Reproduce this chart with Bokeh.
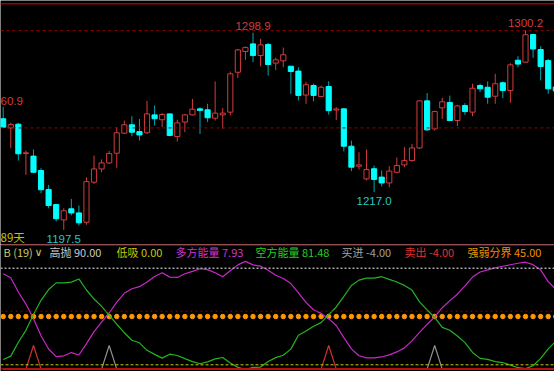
import numpy as np
from bokeh.plotting import figure
from bokeh.models import Range1d, Span, Label, ColumnDataSource
from bokeh.layouts import column
from bokeh.core.properties import value
from bokeh.embed import file_html
from bokeh.resources import INLINE

# ---------------- data ----------------
opens = [1254.7, 1250.0, 1251.9, 1236.8, 1235.5, 1228.1, 1218.3, 1210.6, 1202.7, 1208.4,
         1206.3, 1201.5, 1222.1, 1228.9, 1232.0, 1237.0, 1247.3, 1251.6, 1248.1, 1247.5,
         1256.7, 1254.2, 1257.2, 1245.6, 1253.0, 1256.7, 1259.8, 1259.3, 1255.0, 1256.7,
         1258.1, 1278.6, 1289.3, 1293.2, 1287.2, 1292.9, 1283.3, 1284.5, 1281.7, 1279.2,
         1266.9, 1271.8, 1266.1, 1271.3, 1259.2, 1259.8, 1240.6, 1230.3, 1223.8, 1229.0,
         1224.7, 1221.7, 1227.2, 1231.0, 1233.2, 1239.7, 1263.9, 1249.5, 1260.3, 1263.1,
         1253.8, 1261.5, 1258.1, 1271.8, 1270.9, 1266.3, 1273.2, 1269.2, 1284.8, 1283.8,
         1298.0, 1290.3, 1284.6, 1271.0]
highs = [1260.9, 1252.6, 1252.6, 1238.4, 1238.9, 1229.3, 1220.7, 1211.0, 1208.7, 1213.5,
         1210.1, 1224.6, 1235.8, 1233.8, 1238.2, 1250.4, 1253.8, 1256.0, 1254.6, 1263.9,
         1261.5, 1257.7, 1257.4, 1254.2, 1257.2, 1264.9, 1260.6, 1262.4, 1273.9, 1260.2,
         1279.0, 1290.6, 1291.9, 1298.9, 1295.8, 1293.7, 1286.2, 1291.3, 1281.9, 1281.2,
         1273.7, 1272.7, 1271.8, 1274.0, 1260.7, 1260.0, 1243.5, 1237.5, 1238.9, 1230.6,
         1228.1, 1230.3, 1234.8, 1240.1, 1241.8, 1263.9, 1267.9, 1258.9, 1265.5, 1266.6,
         1261.9, 1262.7, 1272.7, 1272.7, 1273.9, 1277.8, 1273.9, 1283.3, 1286.9, 1300.2,
         1298.4, 1292.0, 1285.5, 1272.0]
lows = [1250.0, 1239.6, 1233.2, 1225.9, 1226.9, 1216.4, 1208.7, 1201.9, 1197.5, 1205.0,
        1199.8, 1200.2, 1221.2, 1227.2, 1231.5, 1229.5, 1246.8, 1245.7, 1243.5, 1246.9,
        1251.2, 1250.4, 1245.7, 1243.0, 1247.8, 1256.4, 1246.9, 1253.0, 1253.8, 1249.5,
        1256.4, 1275.6, 1285.0, 1283.8, 1281.7, 1276.9, 1279.7, 1281.2, 1267.5, 1264.1,
        1262.4, 1263.7, 1265.8, 1256.8, 1254.1, 1237.9, 1227.8, 1228.6, 1223.0, 1217.0,
        1219.9, 1219.5, 1226.9, 1229.8, 1232.7, 1239.2, 1248.5, 1248.6, 1254.6, 1253.5,
        1250.9, 1256.7, 1256.0, 1268.4, 1262.4, 1262.4, 1265.3, 1262.9, 1281.2, 1283.5,
        1286.0, 1274.4, 1267.5, 1268.0]
closes = [1250.4, 1251.7, 1236.7, 1237.2, 1227.2, 1218.2, 1210.1, 1203.3, 1207.4, 1206.3,
          1201.2, 1222.4, 1228.9, 1232.0, 1236.8, 1247.5, 1251.6, 1247.8, 1246.4, 1257.2,
          1254.7, 1256.9, 1246.1, 1252.6, 1256.7, 1259.6, 1259.0, 1255.2, 1257.6, 1257.6,
          1277.8, 1290.1, 1291.3, 1287.2, 1292.7, 1282.6, 1285.0, 1287.6, 1279.0, 1266.7,
          1272.2, 1266.7, 1270.9, 1258.9, 1259.7, 1240.6, 1229.8, 1231.0, 1228.6, 1223.5,
          1221.7, 1227.8, 1230.7, 1233.2, 1239.7, 1263.9, 1249.0, 1258.4, 1263.4, 1253.8,
          1261.3, 1258.4, 1270.4, 1270.1, 1265.8, 1272.7, 1269.2, 1282.4, 1282.8, 1297.9,
          1290.6, 1281.6, 1270.1, 1269.0]

# indicator series
bull_energy = [84.9, 81.2, 67.8, 56.6, 43.0, 27.1, 14.7, 7.6, 8.4, 11.4,
               9.1, 19.8, 30.9, 39.7, 48.3, 58.4, 66.6, 70.9, 72.8, 77.2,
               82.3, 85.7, 81.7, 81.4, 84.8, 87.1, 89.5, 88.7, 85.8, 82.1,
               87.7, 93.1, 96.4, 93.1, 91.9, 88.1, 83.5, 80.4, 75.7, 67.0,
               58.2, 51.3, 47.9, 43.0, 36.6, 25.3, 14.8, 8.4, 6.5, 6.5,
               7.3, 9.3, 12.0, 15.8, 22.3, 30.2, 37.6, 44.6, 53.2, 59.8,
               65.8, 73.6, 81.8, 86.5, 88.5, 90.3, 91.8, 93.2, 94.6, 95.6,
               93.3, 88.5, 77.5, 70.5]
bear_energy = [4.9, 8.1, 21.0, 32.1, 46.9, 60.1, 70.1, 76.3, 76.4, 77.0,
               80.0, 69.7, 61.3, 54.4, 46.2, 37.8, 29.9, 22.9, 20.5, 13.5,
               9.7, 6.2, 9.9, 8.7, 5.8, 3.0, 1.0, 2.7, 5.5, 6.8,
               1.7, -2.4, -4.4, -2.4, -2.1, 3.0, 6.7, 8.9, 14.6, 27.6,
               31.5, 35.9, 39.3, 46.8, 53.9, 63.8, 73.9, 78.9, 80.7, 80.8,
               82.1, 79.6, 77.2, 74.0, 69.6, 58.7, 51.1, 44.1, 34.9, 32.2,
               26.8, 20.7, 11.5, 6.0, 5.0, 3.0, 2.1, -0.3, -2.7, -3.6,
               -0.9, 6.0, 14.9, 22.0]
buy_signal = [-4, -4, -4, -4, -4, -4, -4, -4, -4, -4,
              -4, -4, -4, -4, 18, -4, -4, -4, -4, -4,
              -4, -4, -4, -4, -4, -4, -4, -4, -4, -4,
              -4, -4, -4, -4, -4, -4, -4, -4, -4, -4,
              -4, -4, -4, -4, -4, -4, -4, -4, -4, -4,
              -4, -4, -4, -4, -4, -4, -4, 18, -4, -4,
              -4, -4, -4, -4, -4, -4, -4, -4, -4, -4,
              -4, -4, -4, -4]
sell_signal = [-4, -4, -4, -4, 18, -4, -4, -4, -4, -4,
               -4, -4, -4, -4, -4, -4, -4, -4, -4, -4,
               -4, -4, -4, -4, -4, -4, -4, -4, -4, -4,
               -4, -4, -4, -4, -4, -4, -4, -4, -4, -4,
               -4, -4, -4, 18, -4, -4, -4, -4, -4, -4,
               -4, -4, -4, -4, -4, -4, -4, -4, -4, -4,
               -4, -4, -4, -4, -4, -4, -4, -4, -4, -4,
               -4, -4, -4, -4]

high_level = 90
low_level = 0
mid_level = 50
divide_level = 45
signal_level = -4
price_grid = [1250, 1300]

hi_label_idx = [33, 69]
lo_label_idx = [8, 49]
edge_label = "60.9"      # visible part of the 1260.9 label at the left edge
days_label = "89天"

header = [("B (19)", "#c8c864"), ("∨", "#c8c864"),
          ("高抛 90.00", "#c8c8c8"), ("低吸 0.00", "#c8c800"),
          ("多方能量 7.93", "#d030d0"), ("空方能量 81.48", "#20d020"),
          ("买进 -4.00", "#a0a0a0"), ("卖出 -4.00", "#e03232"),
          ("强弱分界 45.00", "#f09000")]
header_x = [3, 34, 49, 116, 175, 255, 341, 404, 467]

# ---------------- figures ----------------
n = len(opens)
idx = np.arange(n)
o = np.array(opens); c = np.array(closes); h = np.array(highs); l = np.array(lows)
up = c >= o

BG = "#000000"
RED = "#d23c3c"
CYAN = "#00ffff"
TEAL = "#00a8a8"

xr = Range1d(-0.357, 72.83)

p1 = figure(width=554, height=244, x_range=xr, y_range=Range1d(1190.06, 1315.5),
            output_backend="svg", toolbar_location=None, x_axis_type=None, y_axis_type=None,
            min_border=0, background_fill_color=BG, border_fill_color=BG,
            outline_line_color=None)
p1.grid.visible = False

for g in price_grid:
    p1.add_layout(Span(location=g, dimension="width", line_color="#960000",
                       line_dash="3 3", line_width=1))
p1.add_layout(Span(location=1313.8, dimension="width", line_color="#a00000", line_width=1.5))

src_up = ColumnDataSource(dict(x=idx[up], h=h[up], l=l[up],
                               top=np.maximum(o, c)[up], bot=np.minimum(o, c)[up]))
src_dn = ColumnDataSource(dict(x=idx[~up], h=h[~up], l=l[~up],
                               top=np.maximum(o, c)[~up], bot=np.minimum(o, c)[~up]))

p1.segment(x0="x", y0="h", x1="x", y1="l", source=src_dn, line_color=TEAL, line_width=1)
p1.segment(x0="x", y0="h", x1="x", y1="l", source=src_up, line_color=RED, line_width=1)
p1.vbar(x="x", top="top", bottom="bot", width=0.68, source=src_dn,
        fill_color=CYAN, line_color=CYAN, line_width=1)
p1.vbar(x="x", top="top", bottom="bot", width=0.68, source=src_up,
        fill_color=BG, line_color=RED, line_width=1)

p1.text(x=hi_label_idx, y=[h[i] + 3.5 for i in hi_label_idx],
        text=[f"{h[i]:.1f}" for i in hi_label_idx], text_color=RED,
        text_font=value("Liberation Sans"), text_font_size="11.5px",
        text_align="center", text_baseline="middle")
p1.text(x=lo_label_idx, y=[l[i] - 4.4 for i in lo_label_idx],
        text=[f"{l[i]:.1f}" for i in lo_label_idx], text_color="#20c8c8",
        text_font=value("Liberation Sans"), text_font_size="11.5px",
        text_align="center", text_baseline="middle")
p1.add_layout(Label(x=0, y=144, x_units="screen", y_units="screen", text=edge_label,
                    text_color=RED, text_font="Liberation Sans",
                    text_font_size="11.5px", text_baseline="middle", text_align="left"))
p1.add_layout(Label(x=0, y=7.5, x_units="screen", y_units="screen", text=days_label,
                    text_color="#c8c000", text_font="Noto Sans CJK SC",
                    text_font_size="11.5px", text_baseline="middle", text_align="left"))

p2 = figure(width=554, height=127, x_range=xr, y_range=Range1d(-6.24, 112.1),
            output_backend="svg", toolbar_location=None, x_axis_type=None, y_axis_type=None,
            min_border=0, background_fill_color=BG, border_fill_color=BG,
            outline_line_color=None)
p2.grid.visible = False

p2.add_layout(Span(location=111.6, dimension="width", line_color="#b00000", line_width=1.5))
p2.add_layout(Span(location=high_level, dimension="width", line_color="#a8a8a8",
                   line_dash="2 2", line_width=1.5))
p2.add_layout(Span(location=mid_level, dimension="width", line_color="#8c0000",
                   line_dash="2 3", line_width=1))
p2.add_layout(Span(location=low_level, dimension="width", line_color="#c8c800",
                   line_dash="3 2", line_width=1))
p2.scatter(x=idx, y=divide_level, size=4.5, marker="circle",
           fill_color="#ff9900", line_color="#ff9900")

p2.line(idx, bull_energy, line_color="#c828c8", line_width=1.2)
p2.line(idx, bear_energy, line_color="#22b422", line_width=1.2)
p2.line(idx, buy_signal, line_color="#909090", line_width=1.2)
p2.line(idx, sell_signal, line_color="#d03030", line_width=1.2)
p2.add_layout(Span(location=signal_level, dimension="width", line_color="#c00000", line_width=1.5))

for (txt, col), xx in zip(header, header_x):
    p2.add_layout(Label(x=xx, y=119.3, x_units="screen", y_units="screen", text=txt,
                        text_color=col,
                        text_font="DejaVu Sans" if txt == "∨" else "Noto Sans CJK SC",
                        text_font_size="11px", text_baseline="middle", text_align="left"))

layout = column(p1, p2, spacing=0)
open("out.html", "w").write(file_html(layout, INLINE))
